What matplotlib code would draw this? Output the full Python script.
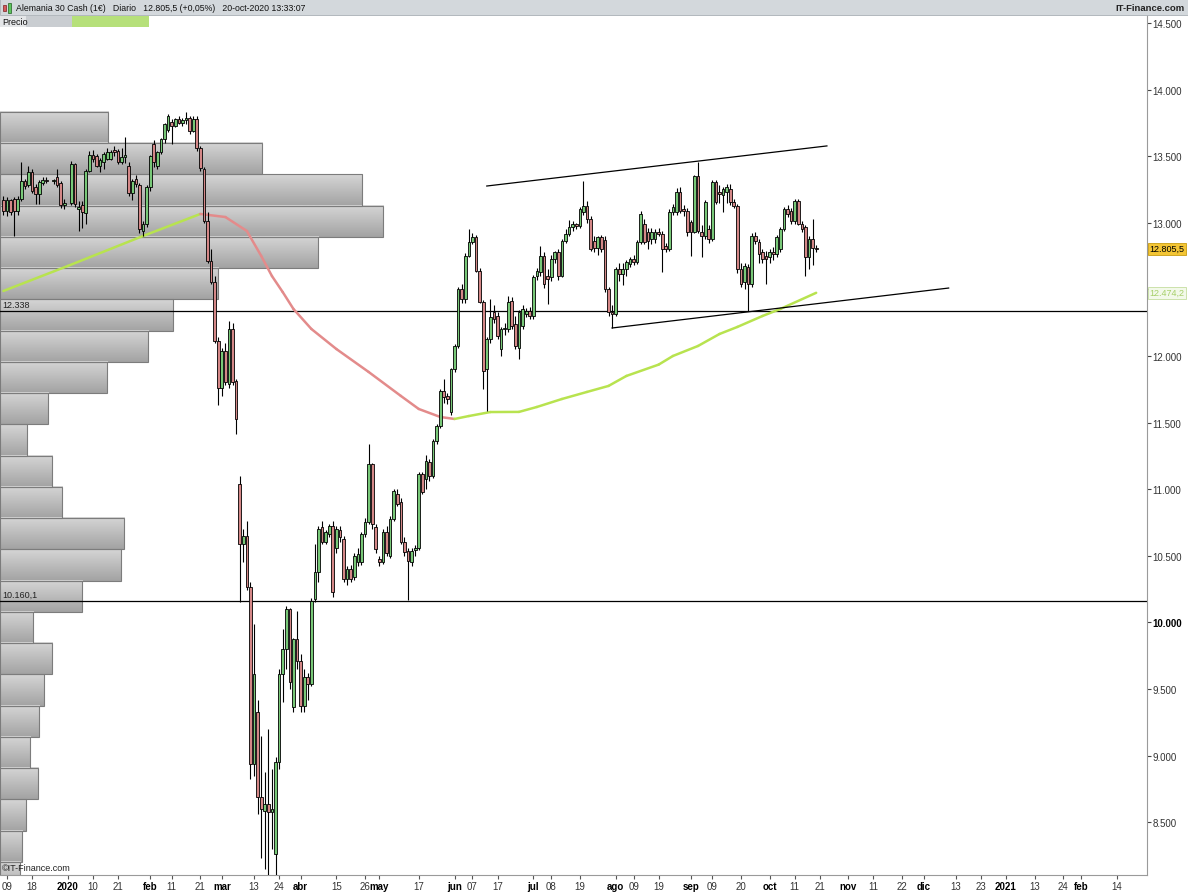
import numpy as np
import pandas as pd
import matplotlib
matplotlib.use("Agg")
import matplotlib.pyplot as plt
from matplotlib.patches import Rectangle
from matplotlib.colors import LinearSegmentedColormap

plt.rcParams['font.family'] = ['Liberation Sans', 'DejaVu Sans']

nan = np.nan

# daily candles, every weekday from 06-dic-2019 to 20-oct-2020 (nan = no session)
dates = pd.bdate_range("2019-12-06", "2020-10-20")

opens = [
    # dic 2019
    13170, 13090, 13170, 13180, 13085, 13180, 13315, 13280, 13380, 13270, 13215, 13300, 13320, nan, 13310, 13340, 13300, 13130,
    # ene
    nan, 13150, 13440, 13100, 13130, 13070, 13390, 13510, 13500, 13430, 13460, 13480, 13480, 13545, 13540, 13460, 13495, 13430, 13220, 13330, 13280, 12940, 12990,
    # feb
    13270, 13590, 13430, 13531, 13629, 13700, 13760, 13730, 13780, 13750, 13770, 13790, 13690, 13779, 13560, 13404, 13013, 12713, 12555, 12112,
    # mar
    11760, 12037, 11790, 12203, 11812, 11039, 10588, 10648, 10266, 8937, 9330, 8690, 8584, 8636, 8576, 8261, 8952, 9612, 9800, 10100, 9365, 9875,
    # abr
    9710, 9372, 9590, 9537, 10175, 10378, 10716, 10603, 10664, 10724, 10560, 10690, 10626, 10326, 10400, 10340, 10450, 10453, 10663, 10754, 11189, 10716,
    # may
    10476, 10453, 10678, 10498, 10776, 10964, 10904, 10603, 10536, 10453, 10540, 10560, 11114, 11076, 11204, 11100, 11362, 11474, 11737, 11700, 11579,
    # jun
    11902, 12075, 12503, 12428, 12751, 12856, 12893, 12638, 12405, 11902, 12127, 12330, 12300, 12052, 12203, 12203, 12413, 12240, 12060, 12225, 12315, 12338,
    # jul
    12300, 12601, 12631, 12751, 12601, 12593, 12728, 12781, 12601, 12863, 12916, 12968, 12990, 12976, 13081, 13126, 13029, 12860, 12810, 12890, 12870, 12503, 12330,
    # ago
    12315, 12653, 12616, 12653, 12691, 12728, 12706, 12856, 12991, 12931, 12878, 12878, 12931, 12916, 12826, 12803, 13081, 13081, 13231, 13100, 13089,
    # sep
    13006, 12931, 13351, 12931, 12901, 12953, 12878, 13306, 13231, 13210, 13230, 13254, 13156, 13126, 12653, 12555, 12668, 12540, 12901, 12856, 12781, 12750,
    # oct
    12743, 12781, 12766, 12803, 12953, 13103, 13089, 13013, 13164, 12991, 12968, 12743, 12878, 12810,
]
highs = [
    13200, 13190, 13180, 13190, 13200, 13460, 13330, 13425, 13400, 13290, 13320, 13340, 13340, nan, 13330, 13400, 13310, 13180,
    nan, 13465, 13450, 13160, 13160, 13400, 13540, 13550, 13520, 13490, 13530, 13560, 13545, 13580, 13555, 13560, 13645, 13460, 13330, 13360, 13300, 13010, 13280,
    13510, 13620, 13540, 13640, 13750, 13817, 13780, 13790, 13800, 13790, 13832, 13800, 13800, 13800, 13580, 13420, 13080, 12800, 12600, 12140,
    12060, 12100, 12263, 12250, 11830, 11099, 10700, 10761, 10300, 9988, 9420, 9150, 8880, 9200, 8900, 8990, 9650, 9950, 10120, 10110, 9880, 10085,
    9760, 9650, 9620, 10180, 10588, 10720, 10760, 10690, 10740, 10760, 10720, 10720, 10650, 10420, 10430, 10520, 10560, 10680, 10780, 11340, 11200, 10740,
    10500, 10700, 10720, 10800, 11000, 11000, 10930, 10640, 10560, 10560, 10580, 11130, 11130, 11260, 11230, 11380, 11490, 11750, 11827, 11720, 11910,
    12090, 12520, 12540, 12770, 12950, 12920, 12910, 12660, 12420, 12140, 12428, 12380, 12330, 12220, 12250, 12450, 12440, 12300, 12345, 12380, 12360, 12370,
    12610, 12660, 12826, 12780, 12650, 12760, 12790, 12800, 12880, 12950, 13020, 13010, 13000, 13120, 13314, 13160, 13050, 12900, 12900, 12910, 12900, 12520, 12380,
    12670, 12700, 12700, 12720, 12740, 12760, 12870, 13090, 13030, 12960, 12960, 12950, 12960, 12940, 12850, 13100, 13140, 13260, 13270, 13130, 13110,
    13020, 13360, 13456, 12980, 13170, 12980, 13320, 13320, 13280, 13270, 13290, 13290, 13180, 13140, 12700, 12700, 12690, 12920, 12930, 12880, 12800, 12790,
    12800, 12820, 12910, 12970, 13120, 13130, 13110, 13180, 13180, 13010, 12980, 12900, 13030, 12830,
]
lows = [
    13060, 13050, 13060, 12900, 13060, 13160, 13250, 13270, 13220, 13140, 13140, 13280, 13300, nan, 13290, 13270, 13110, 13100,
    nan, 13130, 13120, 12940, 12960, 12990, 13380, 13460, 13420, 13380, 13400, 13470, 13470, 13500, 13440, 13440, 13450, 13200, 13170, 13270, 12920, 12900, 12970,
    13240, 13420, 13400, 13520, 13600, 13680, 13590, 13720, 13740, 13730, 13740, 13670, 13680, 13540, 13390, 13000, 12700, 12540, 12100, 11630,
    11700, 11780, 11760, 11780, 11414, 10153, 10450, 10240, 8824, 8850, 8560, 8230, 8150, 8080, 8300, 8100, 8900, 9400, 9650, 9500, 9330, 9650,
    9330, 9330, 9420, 9520, 10150, 10300, 10590, 10590, 10640, 10190, 10520, 10600, 10300, 10280, 10300, 10320, 10420, 10430, 10640, 10740, 10700, 10520,
    10420, 10440, 10500, 10480, 10760, 10870, 10590, 10500, 10168, 10420, 10500, 10540, 10960, 11000, 11060, 11080, 11340, 11460, 11650, 11640, 11560,
    11880, 12060, 12400, 12400, 12740, 12840, 12630, 12400, 11752, 11587, 12100, 12250, 12130, 12000, 12160, 12180, 12200, 12050, 11980, 12200, 12290, 12280,
    12280, 12570, 12600, 12510, 12390, 12560, 12700, 12570, 12590, 12850, 12900, 12940, 12950, 12960, 13060, 13000, 12790, 12780, 12760, 12780, 12480, 12300, 12210,
    12300, 12560, 12530, 12600, 12670, 12680, 12690, 12840, 12840, 12800, 12840, 12850, 12900, 12630, 12780, 12790, 13060, 13060, 13070, 13050, 12900,
    12750, 12920, 12920, 12743, 12880, 12850, 12860, 13140, 13150, 13080, 13150, 13130, 13110, 12620, 12520, 12500, 12338, 12520, 12840, 12700, 12700, 12540,
    12700, 12720, 12740, 12780, 12940, 13040, 12990, 12990, 12980, 12930, 12600, 12650, 12680, 12780,
]
closes = [
    13090, 13170, 13080, 13085, 13180, 13310, 13275, 13380, 13240, 13215, 13306, 13320, 13310, nan, 13320, 13280, 13130, 13150,
    nan, 13440, 13140, 13120, 13080, 13390, 13510, 13480, 13430, 13475, 13515, 13530, 13535, 13530, 13460, 13495, 13510, 13220, 13310, 13290, 12950, 12990, 13270,
    13500, 13456, 13531, 13629, 13742, 13800, 13730, 13780, 13750, 13770, 13790, 13690, 13780, 13560, 13410, 13013, 12713, 12555, 12112, 11760,
    12037, 11805, 12203, 11805, 11527, 10588, 10648, 10266, 8937, 9612, 8690, 8600, 8636, 8576, 8600, 8952, 9612, 9800, 10100, 9552, 9875, 9710,
    9372, 9590, 9537, 10160, 10378, 10700, 10603, 10678, 10724, 10230, 10700, 10640, 10326, 10400, 10326, 10498, 10510, 10663, 10754, 11189, 10740, 10550,
    10453, 10678, 10520, 10776, 10986, 10889, 10603, 10528, 10460, 10536, 10560, 11114, 10979, 11211, 11100, 11362, 11474, 11737, 11692, 11677, 11902,
    12075, 12503, 12428, 12751, 12856, 12893, 12638, 12405, 11887, 12127, 12293, 12278, 12150, 12203, 12210, 12405, 12225, 12075, 12330, 12353, 12338, 12300,
    12593, 12638, 12751, 12540, 12578, 12728, 12781, 12601, 12863, 12916, 12968, 12990, 12976, 13103, 13126, 13029, 12803, 12810, 12890, 12800, 12503, 12330, 12315,
    12653, 12616, 12653, 12706, 12728, 12706, 12856, 13066, 12856, 12863, 12931, 12931, 12916, 12803, 12803, 13081, 13119, 13231, 13089, 13089, 12931,
    12931, 13351, 12938, 12901, 13156, 12878, 13306, 13156, 13216, 13250, 13270, 13156, 13126, 12653, 12540, 12676, 12540, 12901, 12863, 12766, 12728, 12728,
    12781, 12766, 12893, 12953, 13103, 13066, 13013, 13164, 12991, 12953, 12743, 12878, 12810, 12805.5,
]

# media movil
ma_dates = ["2019-12-06", "2020-01-01", "2020-01-30", "2020-02-21", "2020-03-03", "2020-03-11",
            "2020-03-17", "2020-03-20", "2020-03-25", "2020-03-30", "2020-04-06", "2020-04-15",
            "2020-04-28", "2020-05-11", "2020-05-18", "2020-05-26", "2020-06-01", "2020-06-05",
            "2020-06-15", "2020-06-25", "2020-07-02", "2020-07-13", "2020-07-22", "2020-07-30",
            "2020-08-06", "2020-08-19", "2020-08-25", "2020-09-03", "2020-09-11", "2020-09-18",
            "2020-09-29", "2020-10-06", "2020-10-20"]
ma_vals = [12488, 12676, 12901, 13066, 13043, 12938,
           12751, 12600, 12480, 12353, 12203, 12052,
           11880, 11700, 11602, 11542, 11527, 11549,
           11579, 11580, 11617, 11677, 11730, 11775,
           11850, 11935, 12000, 12075, 12165, 12218,
           12300, 12353, 12474.2]

# perfil de volumen por precio (de arriba abajo)
profile_top = 13832
profile_step = 234.6
profile_vol = [108, 262, 362, 383, 318, 218, 173, 148, 107, 48, 27, 52, 62, 124, 121, 82,
               33, 52, 44, 39, 30, 38, 26, 22, 20]

# niveles y lineas de tendencia
levels = [12338, 10160.1]
level_labels = ["12.338", "10.160,1"]
upper_trend = (["2020-06-12", "2020-10-23"], [13276, 13577])
lower_trend = (["2020-07-31", "2020-12-10"], [12210, 12510])

last_price = 12805.5
last_ma = 12474.2

xtick_dates = ["2019-12-09", "2019-12-18", "2020-01-01", "2020-01-10", "2020-01-21", "2020-02-03",
               "2020-02-11", "2020-02-21", "2020-03-02", "2020-03-13", "2020-03-24", "2020-04-01",
               "2020-04-15", "2020-04-26", "2020-05-01", "2020-05-17", "2020-06-01", "2020-06-07",
               "2020-06-17", "2020-07-01", "2020-07-08", "2020-07-19", "2020-08-03", "2020-08-09",
               "2020-08-19", "2020-09-01", "2020-09-09", "2020-09-20", "2020-10-01", "2020-10-11",
               "2020-10-21", "2020-11-02", "2020-11-11", "2020-11-22", "2020-12-01", "2020-12-13",
               "2020-12-23", "2021-01-01", "2021-01-13", "2021-01-24", "2021-02-01", "2021-02-14"]
xtick_text = ["09", "18", "2020", "10", "21", "feb", "11", "21", "mar", "13", "24", "abr", "15", "26",
              "may", "17", "jun", "07", "17", "jul", "08", "19", "ago", "09", "19", "sep", "09", "20",
              "oct", "11", "21", "nov", "11", "22", "dic", "13", "23", "2021", "13", "24", "feb", "14"]
yticks = [8500, 9000, 9500, 10000, 10500, 11000, 11500, 12000, 12500, 13000, 13500, 14000, 14500]

BASE = "2019-12-09"


def xpos(d):
    return int(np.busday_count(BASE, d))


def fmt_es(v, dec=0):
    s = f"{v:,.{dec}f}"
    return s.replace(",", "X").replace(".", ",").replace("X", ".")


GREEN = '#78c878'
RED = '#d48787'
MA_UP = '#b8e34f'
MA_DOWN = '#e38b8b'

fig = plt.figure(figsize=(11.88, 8.95), dpi=100)
W, H = 1188.0, 895.0
ax = fig.add_axes([0, 1 - 876 / H, 1147 / W, (876 - 16) / H])
xmin, xmax = -1.955, 318.4
ymin, ymax = 8103, 14560

# volume profile
cmap = LinearSegmentedColormap.from_list('prof', ['#a3a3a3', '#d5d5d5'])
grad = np.linspace(0, 1, 32).reshape(-1, 1)
vmax = max(profile_vol)
for k, v in enumerate(profile_vol):
    top = profile_top - k * profile_step
    bot = top - profile_step
    w = v / vmax * 0.334 * (xmax - xmin)
    ax.imshow(grad, extent=[xmin, xmin + w, bot, top], origin='lower', aspect='auto',
              cmap=cmap, zorder=1, interpolation='bilinear')
    ax.add_patch(Rectangle((xmin, bot), w, top - bot, fill=False, ec='#7c7c7c', lw=0.8, zorder=1.1))

# horizontal levels
for lv, lab in zip(levels, level_labels):
    ax.axhline(lv, color='black', lw=0.9, zorder=2)
    ax.text(0.002, lv + 18, lab, transform=ax.get_yaxis_transform(), fontsize=6.5,
            va='bottom', ha='left', color='#222222', zorder=6)

# moving average, coloured by slope
mx = [xpos(d) for d in ma_dates]
for k in range(len(mx) - 1):
    col = MA_UP if ma_vals[k + 1] >= ma_vals[k] else MA_DOWN
    ax.plot(mx[k:k + 2], ma_vals[k:k + 2], color=col, lw=1.8, solid_capstyle='round', zorder=3)

# candles
o = np.array(opens, float)
h = np.array(highs, float)
l = np.array(lows, float)
c = np.array(closes, float)
x = np.array([xpos(d) for d in dates.strftime('%Y-%m-%d')])
ok = ~np.isnan(o)
up = ok & (c >= o)
dn = ok & (c < o)
ax.vlines(x[ok], l[ok], h[ok], color='black', lw=0.8, zorder=4)
ax.bar(x[up], c[up] - o[up], bottom=o[up], width=0.75, color=GREEN, edgecolor='black', lw=0.6, zorder=5)
ax.bar(x[dn], o[dn] - c[dn], bottom=c[dn], width=0.75, color=RED, edgecolor='black', lw=0.6, zorder=5)

# trend lines
for tl in (upper_trend, lower_trend):
    ax.plot([xpos(d) for d in tl[0]], tl[1], color='black', lw=0.9, zorder=6)

ax.set_xlim(xmin, xmax)
ax.set_ylim(ymin, ymax)

# axes look
for s in ('top', 'left'):
    ax.spines[s].set_visible(False)
for s in ('right', 'bottom'):
    ax.spines[s].set_color('#9a9a9a')
    ax.spines[s].set_linewidth(0.8)

ax.yaxis.tick_right()
ax.set_yticks(yticks)
# 12.500 is hidden behind the moving-average price tag
ax.set_yticklabels(["" if v == 12500 else fmt_es(v) for v in yticks])
ax.tick_params(axis='y', direction='out', length=3, pad=1, labelsize=7, colors='#444444')
for t, v in zip(ax.get_yticklabels(), yticks):
    t.set_color('#333333')
    if v == 10000:
        t.set_fontweight('bold')
        t.set_color('black')

ax.set_xticks([xpos(d) for d in xtick_dates])
ax.set_xticklabels(xtick_text)
ax.tick_params(axis='x', direction='out', length=3, pad=1, labelsize=7, colors='#555555')
for t in ax.get_xticklabels():
    t.set_color('#333333')
    if not t.get_text().isdigit() or len(t.get_text()) == 4:
        t.set_fontweight('bold')
        t.set_color('black')

# price tags on the right
ax.text(1.002, last_price, fmt_es(last_price, 1), transform=ax.get_yaxis_transform(),
        fontsize=6.5, va='center', ha='left', color='black', zorder=7, clip_on=False,
        bbox=dict(boxstyle='square,pad=0.18', fc='#f3c534', ec='#c99c10', lw=0.6))
ax.text(1.002, last_ma, fmt_es(last_ma, 1), transform=ax.get_yaxis_transform(),
        fontsize=6.5, va='center', ha='left', color='#a6cf6a', zorder=7, clip_on=False,
        bbox=dict(boxstyle='square,pad=0.18', fc='#f3f9ea', ec='#c5dea0', lw=0.6))

ax.text(0.002, 0.004, "\u00a9IT-Finance.com", transform=ax.transAxes, fontsize=6.5,
        va='bottom', ha='left', color='#222222', zorder=7)

# header bar
fig.add_artist(Rectangle((0, 1 - 16 / H), 1, 16 / H, transform=fig.transFigure,
                         fc='#d3d8dc', ec='#a9b0b6', lw=0.6))
fig.add_artist(Rectangle((3 / W, 1 - 12 / H), 3 / W, 6 / H, transform=fig.transFigure,
                         fc='#d65a5a', ec='#7a2020', lw=0.5))
fig.add_artist(Rectangle((8 / W, 1 - 14 / H), 3 / W, 10 / H, transform=fig.transFigure,
                         fc='#5dc55d', ec='#206020', lw=0.5))
fig.text(16 / W, 1 - 8.5 / H,
         "Alemania 30 Cash (1\u20ac)   Diario   12.805,5 (+0,05%)   20-oct-2020 13:33:07",
         fontsize=6.3, va='center', ha='left', color='#111111')
fig.text(1185 / W, 1 - 8.5 / H, "IT-Finance.com", fontsize=6.8, fontweight='bold',
         va='center', ha='right', color='#222222')

# legend row
fig.add_artist(Rectangle((0, 1 - 28 / H), 26 / W, 11 / H, transform=fig.transFigure,
                         fc='#e4e6e8', ec='none'))
fig.add_artist(Rectangle((26 / W, 1 - 28 / H), 46 / W, 11 / H, transform=fig.transFigure,
                         fc='#c9cdd1', ec='none'))
fig.add_artist(Rectangle((72 / W, 1 - 28 / H), 77 / W, 11 / H, transform=fig.transFigure,
                         fc='#b6e07a', ec='none'))
fig.text(2 / W, 1 - 22.5 / H, "Precio", fontsize=6.5, va='center', ha='left', color='#111111')

fig.savefig("out.png", dpi=100)
